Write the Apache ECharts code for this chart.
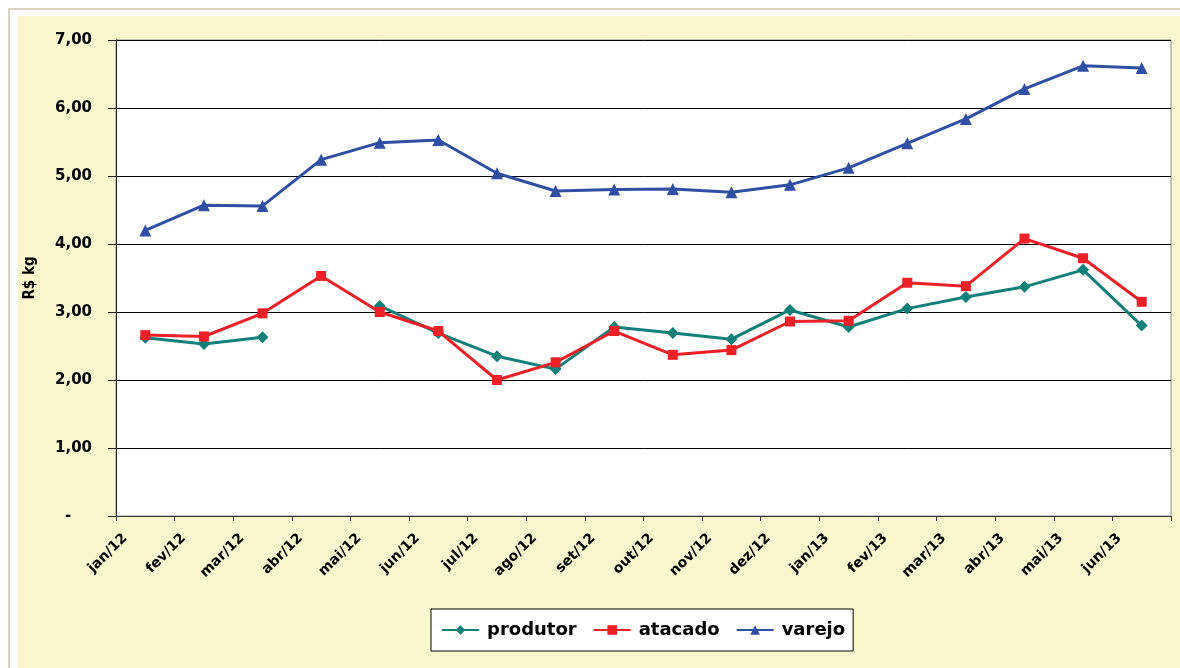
<!DOCTYPE html>
<html lang="pt">
<head>
    <meta charset="UTF-8">
    <title>Preços R$ kg</title>
    <script src="https://cdn.jsdelivr.net/npm/echarts@6/dist/echarts.min.js"></script>
    <style>body{margin:0;background:#fff;}</style>
</head>
<body>
<div id="main" style="width:1180px;height:668px;"></div>
<script type="text/javascript">
    // dados (R$/kg)
    var meses = ['jan/12', 'fev/12', 'mar/12', 'abr/12', 'mai/12', 'jun/12', 'jul/12', 'ago/12', 'set/12',
        'out/12', 'nov/12', 'dez/12', 'jan/13', 'fev/13', 'mar/13', 'abr/13', 'mai/13', 'jun/13'];
    var produtor = [2.62, 2.53, 2.63, null, 3.09, 2.69, 2.35, 2.16, 2.78, 2.69, 2.60, 3.03, 2.78, 3.05, 3.22, 3.37, 3.62, 2.80];
    var atacado = [2.66, 2.64, 2.98, 3.53, 3.00, 2.72, 2.00, 2.26, 2.72, 2.37, 2.44, 2.86, 2.87, 3.43, 3.38, 4.08, 3.79, 3.15];
    var varejo = [4.20, 4.57, 4.56, 5.24, 5.49, 5.53, 5.04, 4.78, 4.80, 4.81, 4.76, 4.87, 5.12, 5.48, 5.84, 6.28, 6.62, 6.59];

    var fonte = "'DejaVu Sans', Verdana, sans-serif";
    var myChart = echarts.init(document.getElementById('main'));

    var option = {
        animation: false,
        backgroundColor: '#fff',
        graphic: [
            {type: 'rect', z: -20, silent: true, shape: {x: 9, y: 9, width: 1185, height: 680},
                style: {fill: '#fff', stroke: '#d9d5c2', lineWidth: 2}},
            {type: 'rect', z: -10, silent: true, shape: {x: 18, y: 16, width: 1170, height: 660},
                style: {fill: '#faf7cf'}}
        ],
        legend: {
            left: 431,
            top: 609,
            padding: [12, 8, 12, 10],
            itemGap: 16,
            itemWidth: 37,
            itemHeight: 12,
            borderColor: '#000',
            borderWidth: 1,
            borderRadius: 0,
            backgroundColor: '#fff',
            textStyle: {fontFamily: fonte, fontSize: 18, fontWeight: 'bold', color: '#000',
                padding: [0, 0, 0, 3]},
            data: ['produtor', 'atacado', 'varejo']
        },
        grid: [
            {left: 116, right: 9, top: 40, bottom: 152, show: true, backgroundColor: '#fff',
                borderColor: '#8a8a8a', borderWidth: 1},
            {left: 125, right: 0, top: 40, bottom: 152}
        ],
        xAxis: [
            {
                type: 'category',
                gridIndex: 0,
                data: meses,
                boundaryGap: true,
                axisLine: {lineStyle: {color: '#3a3a3a', width: 1}},
                axisTick: {show: true, length: 5, lineStyle: {color: '#3a3a3a'}},
                axisLabel: {show: false}
            },
            {
                // eixo só para os rótulos, alinhados nas marcas
                type: 'category',
                gridIndex: 1,
                data: meses.concat(['']),
                boundaryGap: false,
                axisLine: {show: false},
                axisTick: {show: false},
                axisLabel: {
                    interval: 0, rotate: 45, margin: 20,
                    fontFamily: fonte, fontSize: 14, fontWeight: 'bold', color: '#000'
                }
            }
        ],
        yAxis: [
            {
                type: 'value',
                gridIndex: 0,
                min: 0,
                max: 7,
                interval: 1,
                name: 'R$ kg',
                nameLocation: 'middle',
                nameGap: 78,
                nameTextStyle: {fontFamily: "'DejaVu Sans Condensed', 'DejaVu Sans', sans-serif",
                    fontSize: 15, fontWeight: 'bold', color: '#000'},
                axisLine: {show: true, lineStyle: {color: '#222', width: 1}},
                axisTick: {show: true, length: 8, lineStyle: {color: '#222'}},
                axisLabel: {
                    margin: 24,
                    fontFamily: fonte, fontSize: 15, fontWeight: 'bold', color: '#000',
                    formatter: function (v) {
                        return v === 0 ? '-    ' : v.toFixed(2).replace('.', ',');
                    }
                },
                splitLine: {lineStyle: {color: '#000', width: 1}}
            },
            {type: 'value', gridIndex: 1, min: 0, max: 7, show: false}
        ],
        series: [
            {
                name: 'produtor',
                type: 'line',
                data: produtor,
                symbol: 'diamond',
                symbolSize: 12,
                connectNulls: false,
                itemStyle: {color: '#108079'},
                lineStyle: {color: '#108079', width: 3}
            },
            {
                name: 'atacado',
                type: 'line',
                data: atacado,
                symbol: 'rect',
                symbolSize: 10,
                itemStyle: {color: '#ee2027'},
                lineStyle: {color: '#ee2027', width: 3}
            },
            {
                name: 'varejo',
                type: 'line',
                data: varejo,
                symbol: 'triangle',
                symbolSize: 12,
                itemStyle: {color: '#2e4fa3'},
                lineStyle: {color: '#2e4fa3', width: 3}
            }
        ]
    };

    myChart.setOption(option);
</script>
</body>
</html>
